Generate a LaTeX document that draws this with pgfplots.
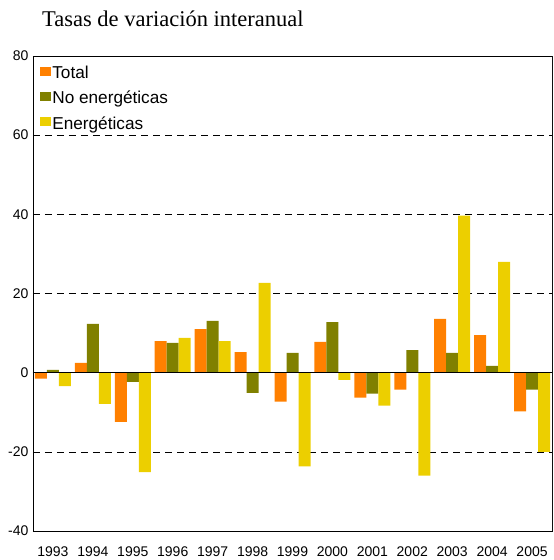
\documentclass[border=0pt]{standalone}
\usepackage{fontspec}
\setmainfont{Liberation Sans}
\newfontfamily\titlefont{Liberation Serif}
\usepackage{pgfplots}
\pgfplotsset{compat=1.18}
\definecolor{cTot}{RGB}{255,128,0}
\definecolor{cNo}{RGB}{128,128,0}
\definecolor{cEn}{RGB}{236,207,0}
\begin{document}
\begin{tikzpicture}[x=1pt,y=1pt]
\useasboundingbox (0,0) rectangle (554,560);
\node[anchor=base west, inner sep=0pt, font=\titlefont\fontsize{22.5}{26}\selectfont] at (42,533) {Tasas de variación interanual};
\begin{axis}[
  at={(33pt,29pt)}, anchor=south west, scale only axis,
  width=519pt, height=475pt,
  ymin=-40, ymax=80, ytick={-40,-20,...,80},
  xmin=-0.5, xmax=12.5, xtick={0,...,12},
  xticklabels={1993,1994,1995,1996,1997,1998,1999,2000,2001,2002,2003,2004,2005},
  major tick length=0pt,
  ymajorgrids, grid style={black, line width=0.6pt, dash pattern=on 7pt off 5pt},
  axis line style={black, line width=0.8pt},
  /pgf/number format/assume math mode=true,
  yticklabel style={font=\fontsize{14}{16}\selectfont, xshift=-1pt},
  xticklabel style={font=\fontsize{14}{16}\selectfont, yshift=-12pt},
  ybar=0pt, bar width=12pt,
  legend style={at={(0.008,0.983)}, anchor=north west, draw=none, fill=none,
    font=\fontsize{17.2}{20}\selectfont, row sep=11pt, nodes={inner xsep=1pt, inner ysep=0pt}},
  legend cell align=left,
  legend image code/.code={\fill[#1] (0pt,-3pt) rectangle (11pt,6pt);},
]
\addplot[fill=cTot, draw=none] coordinates {(0,-1.5) (1,2.5) (2,-12.4) (3,8.0) (4,11.0) (5,5.2) (6,-7.3) (7,7.8) (8,-6.3) (9,-4.3) (10,13.6) (11,9.5) (12,-9.8)};
\addplot[fill=cNo, draw=none] coordinates {(0,0.7) (1,12.3) (2,-2.3) (3,7.5) (4,13.1) (5,-5.1) (6,5.0) (7,12.8) (8,-5.3) (9,5.7) (10,5.0) (11,1.7) (12,-4.3)};
\addplot[fill=cEn, draw=none] coordinates {(0,-3.4) (1,-7.9) (2,-25.1) (3,8.8) (4,8.0) (5,22.7) (6,-23.7) (7,-1.8) (8,-8.3) (9,-26.0) (10,39.7) (11,28.0) (12,-20.0)};
\legend{Total, No energéticas, Energéticas}
\draw[black, line width=0.9pt] (axis cs:-0.5,0) -- (axis cs:12.5,0);
\draw[gray, line width=0.9pt] (rel axis cs:1,0) -- (rel axis cs:1,1);
\end{axis}
\end{tikzpicture}
\end{document}
